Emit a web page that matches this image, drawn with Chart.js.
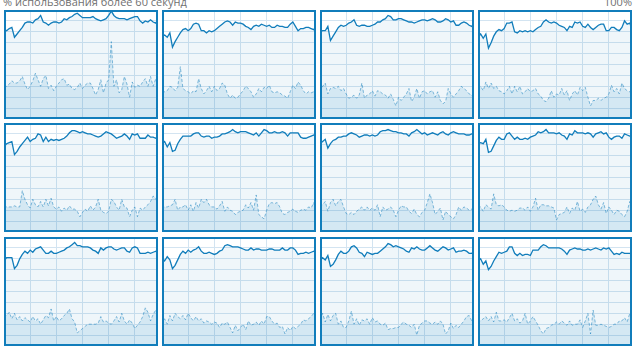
<!DOCTYPE html>
<html>
<head>
<meta charset="utf-8">
<script src="https://cdn.jsdelivr.net/npm/chart.js@4.4.1/dist/chart.umd.min.js"></script>
<style>
  body { margin: 0; background: #fff; width: 637px; height: 353px; overflow: hidden; position: relative; font-family: "Segoe UI", "Open Sans", sans-serif; }
  .title { position: absolute; top: -4px; font-size: 11px; line-height: 11px; color: #707070; white-space: nowrap; }
  .panel { position: absolute; width: 154px; height: 109px; overflow: hidden; }
  .panel canvas { position: absolute; left: 0; top: 0; }
  .frame { position: absolute; left: 0; top: 0; width: 154px; height: 109px; border: 2px solid #117dbb; box-sizing: border-box; }
</style>
</head>
<body>
<div class="title" style="left:3px">% использования более 60 секунд</div>
<div class="title" style="right:5px">100%</div>
<script>
const seconds = [0,1,2,3,4,5,6,7,8,9,10,11,12,13,14,15,16,17,18,19,20,21,22,23,24,25,26,27,28,29,30,
  31,32,33,34,35,36,37,38,39,40,41,42,43,44,45,46,47,48,49,50,51,52,53,54,55,56,57,58,59,60];
const gridSeconds = [0, 10, 20, 30, 40, 50, 60];
const gridPercent = [0, 10, 20, 30, 40, 50, 60, 70, 80, 90, 100];

// общая загрузка ЦП (сплошная линия) и время ядра (пунктир), по логическим процессорам
const total1 = [82,81,83,84,75,78,81,84,88,89,89,88,91,92,95,89,88,86,88,89,89,88,89,92,91,93,94,96,97,95,93,93,93,93,94,92,91,90,91,92,95,99,95,93,92,92,92,91,92,93,94,94,90,88,90,89,91,89,88,92,92];
const kernel1 = [29,30,32,35,33,33,35,39,32,27,30,35,42,36,30,37,40,28,31,26,30,33,36,37,31,32,28,27,29,33,28,31,33,33,28,22,27,36,24,33,36,71,30,36,24,27,39,32,20,34,29,31,30,34,37,30,39,30,37,30,29];
const total2 = [76,77,75,79,66,71,75,79,82,83,81,83,87,88,87,81,81,79,81,80,81,83,85,87,89,90,89,86,89,88,88,87,85,84,82,85,86,85,87,86,85,86,84,84,86,85,85,84,84,87,89,85,81,83,83,84,84,83,82,85,88];
const kernel2 = [25,25,26,30,29,26,29,48,28,26,25,23,26,25,37,28,23,26,30,25,30,26,28,33,31,23,19,22,19,20,23,26,30,28,25,20,23,28,25,29,28,31,25,24,25,24,22,21,19,25,31,28,34,31,26,23,25,24,25,23,25];
const total3 = [80,81,81,85,72,76,80,84,86,85,86,88,89,91,86,85,86,86,85,85,86,87,89,89,91,92,95,94,91,91,92,92,91,90,89,89,88,89,90,91,91,90,91,92,91,89,89,90,92,91,89,90,86,86,88,89,88,86,85,88,89];
const kernel3 = [25,30,33,23,28,29,28,30,26,28,23,19,20,22,19,22,33,19,22,23,26,21,26,25,23,22,19,23,18,12,20,17,20,23,28,16,20,28,19,25,26,23,25,26,20,25,17,14,16,28,23,20,23,26,30,28,26,23,22,19,18];
const total4 = [75,78,74,78,65,70,76,80,82,81,83,88,88,89,80,79,81,80,81,80,81,80,82,84,85,89,91,89,88,89,88,86,85,84,81,85,84,89,88,89,85,84,87,84,82,84,86,87,87,81,81,84,84,82,81,84,90,87,88,81,89];
const kernel4 = [28,30,26,34,28,33,28,30,26,25,23,26,30,23,30,25,30,23,25,28,25,26,28,23,21,17,16,19,26,20,23,22,28,22,26,17,23,26,22,29,26,29,20,12,17,17,19,17,19,20,23,31,25,28,23,33,28,26,25,22,17];
const total5 = [78,81,82,83,71,74,78,81,84,87,83,85,86,90,89,83,87,83,85,84,85,84,85,86,88,91,93,93,92,91,92,91,90,90,89,88,87,88,90,92,91,90,88,86,87,88,90,88,85,90,89,90,86,86,86,89,87,87,86,88,92];
const kernel5 = [24,23,23,23,24,23,23,38,30,25,22,30,25,23,28,23,30,24,31,23,21,23,19,22,20,24,21,21,19,14,18,21,19,24,20,23,30,20,18,17,19,30,28,23,20,30,23,22,14,20,23,14,22,20,23,25,28,33,31,23,20];
const total6 = [81,83,78,82,74,75,81,85,88,88,88,88,90,91,91,88,87,88,88,86,87,87,88,90,90,91,92,94,92,91,92,92,92,91,90,89,91,88,91,94,93,91,91,92,91,91,92,91,88,91,91,91,91,87,86,86,87,88,89,87,92];
const kernel6 = [21,23,23,24,25,30,20,23,23,25,20,25,19,27,22,30,27,30,25,23,23,21,24,28,19,23,20,19,16,18,19,20,25,22,27,20,34,16,14,12,20,26,27,26,27,23,17,16,18,19,21,19,18,20,21,20,23,22,27,16,25];
const total7 = [81,83,85,77,81,84,85,87,87,88,88,90,91,90,89,87,88,89,89,88,89,88,89,92,93,93,94,93,92,92,91,91,90,90,88,91,92,94,92,90,91,89,90,91,90,89,91,92,90,89,91,92,91,90,90,90,89,89,90,90,92];
const kernel7 = [23,25,28,19,27,30,24,28,30,23,17,16,18,16,19,21,23,20,23,20,22,20,25,14,23,20,21,23,20,14,20,24,23,23,19,17,21,16,14,18,20,27,35,27,16,19,22,11,19,16,14,12,16,23,20,23,22,20,21,20,17];
const total8 = [81,82,81,85,73,74,79,84,87,85,85,90,91,88,85,87,85,85,86,85,87,88,89,92,91,92,94,91,91,91,90,91,89,88,85,90,89,93,91,91,91,90,91,90,87,90,91,92,90,91,87,85,87,88,88,86,90,89,88,88,92];
const kernel8 = [24,23,19,25,23,21,35,25,24,25,23,20,19,20,19,20,22,22,20,23,19,23,31,20,25,25,24,24,23,22,11,16,17,18,23,17,22,20,28,19,21,18,23,25,30,33,25,21,27,17,23,20,16,20,19,16,14,19,28,23,17];
const total9 = [78,81,81,81,71,74,80,84,87,85,88,86,89,90,91,88,85,85,87,85,85,86,87,88,90,91,93,95,92,92,91,91,91,90,88,87,85,90,88,90,91,91,89,88,89,90,90,87,86,90,91,90,85,85,85,86,85,86,87,84,90];
const kernel9 = [30,28,31,25,30,24,27,23,26,24,22,27,23,25,20,24,28,26,34,23,27,23,25,28,30,34,25,22,12,14,16,18,20,20,20,20,21,27,22,23,21,20,23,27,22,30,23,20,24,21,16,19,22,27,35,31,23,29,33,32,16];
const total10 = [81,78,82,79,71,74,79,84,87,85,88,86,88,89,91,87,85,85,86,85,84,85,87,88,92,93,92,91,91,91,90,89,88,88,90,88,89,89,88,88,88,89,89,88,88,88,90,88,88,90,90,88,84,85,85,86,85,86,87,85,90];
const kernel10 = [20,25,20,28,23,30,27,25,28,24,30,26,23,27,23,25,21,23,22,20,22,21,17,21,20,22,17,12,19,14,17,20,15,23,19,20,22,19,23,20,27,27,23,20,21,17,18,11,17,14,18,16,18,20,24,23,25,27,30,33,19];
const total11 = [78,81,79,83,73,75,79,84,87,85,85,87,91,92,90,86,85,82,86,85,84,85,85,87,89,91,94,93,91,92,91,90,89,87,86,90,89,91,89,88,88,90,92,90,88,87,89,91,90,88,89,90,86,87,87,88,87,85,85,87,90];
const kernel11 = [24,30,22,29,23,28,30,20,23,17,17,23,32,20,25,19,24,23,25,20,26,22,23,20,19,21,15,16,16,17,17,20,22,20,19,17,20,10,19,21,23,23,21,20,22,20,23,20,11,14,21,16,19,17,20,23,27,28,23,20,20];
const total12 = [78,80,75,78,70,73,78,82,86,85,86,87,91,91,85,83,85,83,84,84,83,88,88,88,91,93,92,90,90,90,90,90,89,87,84,88,89,90,89,89,88,88,89,88,89,90,89,88,90,89,90,87,84,85,84,86,85,85,85,84,90];
const kernel12 = [25,23,25,27,23,27,22,31,23,23,24,22,26,30,23,25,21,23,30,20,23,27,23,19,14,11,16,17,19,20,22,20,23,21,19,23,19,20,20,24,17,23,30,11,33,19,19,20,19,18,17,18,20,20,23,23,26,22,30,23,25];

const totals = [total1, total2, total3, total4, total5, total6, total7, total8, total9, total10, total11, total12];
const kernels = [kernel1, kernel2, kernel3, kernel4, kernel5, kernel6, kernel7, kernel8, kernel9, kernel10, kernel11, kernel12];

const lefts = [4, 162, 320, 478];
const tops = [10, 123, 237];

const toPoints = (values) => values.map((v, i) => ({ x: seconds[i], y: v }));

const crearPanel = (total, kernel, n) => {
  const panel = document.createElement('div');
  panel.className = 'panel';
  panel.style.left = lefts[n % 4] + 'px';
  panel.style.top = tops[Math.floor(n / 4)] + 'px';
  const canvas = document.createElement('canvas');
  canvas.width = 157;
  canvas.height = 109;
  panel.appendChild(canvas);
  const frame = document.createElement('div');
  frame.className = 'frame';
  panel.appendChild(frame);
  document.body.appendChild(panel);

  const grid = { color: '#d3e4f1', lineWidth: 1, drawTicks: false };

  new Chart(canvas.getContext('2d'), {
    type: 'line',
    data: {
      datasets: [{
        data: toPoints(total),
        borderColor: '#117dbb',
        borderWidth: 1.3,
        backgroundColor: 'rgba(17, 125, 187, 0.065)',
        fill: 'origin',
        pointRadius: 0,
        tension: 0,
      }, {
        data: toPoints(kernel),
        borderColor: 'rgba(17, 125, 187, 0.5)',
        borderWidth: 1,
        borderDash: [3, 2],
        backgroundColor: 'rgba(17, 125, 187, 0.12)',
        fill: 'origin',
        pointRadius: 0,
        tension: 0,
      }],
    },
    options: {
      responsive: false,
      animation: false,
      events: [],
      layout: { padding: 0 },
      plugins: { legend: { display: false }, tooltip: { enabled: false } },
      scales: {
        x: {
          type: 'linear', min: gridSeconds[0], max: gridSeconds[gridSeconds.length - 1],
          ticks: { display: false, stepSize: 10 },
          grid: grid,
          border: { display: false },
        },
        y: {
          min: gridPercent[0], max: gridPercent[gridPercent.length - 1],
          ticks: { display: false, stepSize: 10 },
          grid: grid,
          border: { display: false },
        },
      },
    },
  });
};

totals.forEach((total, n) => crearPanel(total, kernels[n], n));
</script>
</body>
</html>
